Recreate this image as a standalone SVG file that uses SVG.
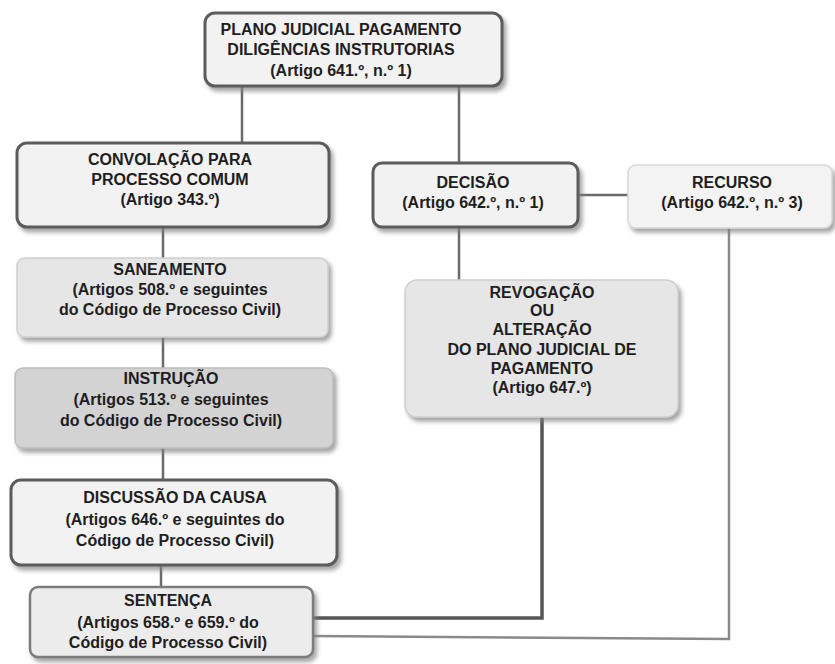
<svg xmlns="http://www.w3.org/2000/svg" width="835" height="664" viewBox="0 0 835 664">
<defs>
<filter id="sh" x="-10%" y="-10%" width="125%" height="135%">
<feDropShadow dx="3" dy="4" stdDeviation="2" flood-color="#808080" flood-opacity="0.7"/>
</filter>
<style>
text{font-family:"Liberation Sans",Arial,sans-serif;font-weight:bold;font-size:16px;fill:#1e1e1e;text-anchor:middle}
.dark{fill:#f2f2f2;stroke:#5c5c5c;stroke-width:3;filter:url(#sh)}
.mid{fill:#ececec;stroke:#7c7c7c;stroke-width:2.5;filter:url(#sh)}
.soft{fill:#e6e6e6;stroke:#cfcfcf;stroke-width:1.5;filter:url(#sh)}
.grey{fill:#d3d3d3;stroke:#bdbdbd;stroke-width:1.5;filter:url(#sh)}
.light{fill:#f3f3f3;stroke:#d8d8d8;stroke-width:1.5;filter:url(#sh)}
.c{fill:none;stroke:#6a6a6a;stroke-width:2.5}
.cd{fill:none;stroke:#555;stroke-width:3.5}
.cl{fill:none;stroke:#8a8a8a;stroke-width:2.5}
</style>
</defs>
<rect width="835" height="664" fill="#ffffff"/>
<g id="connectors">
<line class="c" x1="242" y1="86" x2="242" y2="143"/>
<line class="c" x1="459" y1="86" x2="459" y2="163"/>
<line class="c" x1="163" y1="227" x2="163" y2="258"/>
<line class="c" x1="163" y1="337" x2="163" y2="368"/>
<line class="c" x1="163" y1="448" x2="163" y2="480"/>
<line class="c" x1="161" y1="565" x2="161" y2="587"/>
<line class="c" x1="578" y1="195" x2="628" y2="195"/>
<line class="c" x1="459" y1="227" x2="459" y2="280"/>
<polyline class="cd" points="542,417 542,618 313,618"/>
<polyline class="cl" points="729,228 729,639 313,636"/>
</g>
<g id="plano">
<rect class="dark" x="205" y="13" width="297" height="73" rx="10"/>
<text x="341" y="35">PLANO JUDICIAL PAGAMENTO</text>
<text x="341" y="55">DILIGÊNCIAS INSTRUTORIAS</text>
<text x="341" y="76">(Artigo 641.º, n.º 1)</text>
</g>
<g id="convolacao">
<rect class="dark" x="17" y="143" width="312" height="84" rx="10"/>
<text x="170" y="165">CONVOLAÇÃO PARA</text>
<text x="170" y="185">PROCESSO COMUM</text>
<text x="170" y="205">(Artigo 343.º)</text>
</g>
<g id="saneamento">
<rect class="soft" x="17" y="258" width="311" height="79" rx="8"/>
<text x="170" y="275">SANEAMENTO</text>
<text x="170" y="295">(Artigos 508.º e seguintes</text>
<text x="170" y="315">do Código de Processo Civil)</text>
</g>
<g id="instrucao">
<rect class="grey" x="15" y="368" width="318" height="80" rx="8"/>
<text x="171" y="384">INSTRUÇÃO</text>
<text x="171" y="405">(Artigos 513.º e seguintes</text>
<text x="171" y="426">do Código de Processo Civil)</text>
</g>
<g id="discussao">
<rect class="dark" x="11" y="480" width="326" height="85" rx="10"/>
<text x="175" y="503">DISCUSSÃO DA CAUSA</text>
<text x="175" y="525">(Artigos 646.º e seguintes do</text>
<text x="175" y="546">Código de Processo Civil)</text>
</g>
<g id="sentenca">
<rect class="mid" x="30" y="587" width="283" height="70" rx="8"/>
<text x="168" y="606">SENTENÇA</text>
<text x="168" y="628">(Artigos 658.º e 659.º do</text>
<text x="168" y="648">Código de Processo Civil)</text>
</g>
<g id="decisao">
<rect class="dark" x="373" y="163" width="205" height="64" rx="9"/>
<text x="473" y="188">DECISÃO</text>
<text x="473" y="208">(Artigo 642.º, n.º 1)</text>
</g>
<g id="recurso">
<rect class="light" x="628" y="165" width="204" height="63" rx="8"/>
<text x="732" y="188">RECURSO</text>
<text x="732" y="208">(Artigo 642.º, n.º 3)</text>
</g>
<g id="revogacao">
<rect class="soft" x="405" y="280" width="273" height="137" rx="12"/>
<text x="542" y="298">REVOGAÇÃO</text>
<text x="542" y="316">OU</text>
<text x="542" y="335">ALTERAÇÃO</text>
<text x="542" y="355">DO PLANO JUDICIAL DE</text>
<text x="542" y="374">PAGAMENTO</text>
<text x="542" y="393">(Artigo 647.º)</text>
</g>
</svg>
